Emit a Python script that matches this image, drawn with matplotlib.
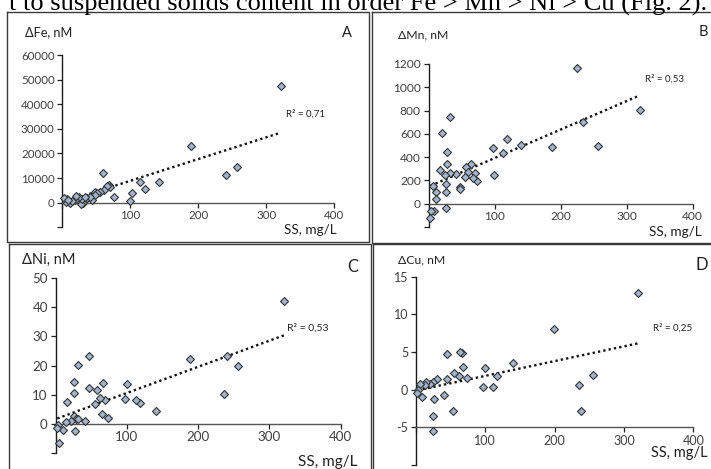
import numpy as np
import matplotlib
matplotlib.use("Agg")
import matplotlib.pyplot as plt
from matplotlib.lines import Line2D

# ---------------- data ----------------
header_text = "t to suspended solids content in order Fe > Mn > Ni > Cu (Fig. 2)."

xticks = [0, 100, 200, 300, 400]
xtick_labels = ["", "100", "200", "300", "400"]

# Panel A: Fe
fe_ss = [321.6, 189, 257, 240, 142, 114.6, 121, 102, 99.5, 59.8, 68, 70.6, 66, 76, 62,
         55.9, 48.5, 50.8, 47.5, 43.5, 36, 31, 27, 28.8, 24, 18.8, 11.3, 6.3, 5, 3,
         14, 40, 33, 20, 8]
fe_val = [47500, 23000, 14600, 11300, 8400, 8400, 5440, 3800, 800, 11940, 7190, 6250, 6800, 2440, 5200,
          4470, 4470, 3900, 3100, 1100, 1800, 0, -400, 1400, 2200, 1100, 0, 1400, 480, 2000,
          600, 2300, 2500, 2600, 900]
fe_trend_ss = [2, 321]
fe_trend = [227, 28430]
fe_yticks = [-10000, 0, 10000, 20000, 30000, 40000, 50000, 60000]
fe_ylabels = ["", "0", "10000", "20000", "30000", "40000", "50000", "60000"]

# Panel B: Mn
mn_ss = [225, 234, 256, 320, 187, 140.6, 118.8, 112.8, 98, 99, 73.8, 69.8, 64.7, 57, 67,
         59.7, 54.6, 47, 47, 41, 31.9, 31.9, 27.8, 27.8, 25.3, 26.8, 26.8, 26.8, 20.2, 16.7,
         11.6, 11.6, 6.6, 8, 4, 3]
mn_val = [1163, 705, 495, 802, 490, 501, 556, 438, 475, 246, 192, 261, 341, 318, 218,
          275, 232, 146, 123, 255, 742, 266, 447, 341, 246, 169, 103, -34, 604, 289,
          103, 37, 155, -60, -63, -126]
mn_trend_ss = [3, 320]
mn_trend = [154, 931]
mn_yticks = [-200, 0, 200, 400, 600, 800, 1000, 1200]
mn_ylabels = ["", "0", "200", "400", "600", "800", "1000", "1200"]

# Panel C: Ni
ni_ss = [320.6, 240.3, 236.6, 256.2, 188, 141, 118.5, 113, 99.8, 98, 74, 69.4, 66.2, 62.4, 64.8,
         57.8, 55.4, 47.4, 47.4, 41.4, 31.6, 26, 26, 27, 26, 28.5, 32, 16.5, 11, 21.3,
         14.7, 4, 5.3, 2.5]
ni_val = [42.2, 23.3, 10.3, 19.8, 22.1, 4.3, 7.1, 8.3, 13.6, 8.4, 2.1, 8.0, 14.1, 9.0, 3.4,
          11.7, 6.9, 12.4, 23.2, 0.8, 20.3, 14.5, 10.7, -2.5, 2.5, 1.5, 1.7, 7.4, -2.1, 0.9,
          0.7, -0.6, -6.7, -1.4]
ni_trend_ss = [2.5, 320.6]
ni_trend = [1.8, 30.4]
ni_yticks = [-10, 0, 10, 20, 30, 40, 50]
ni_ylabels = ["", "0", "10", "20", "30", "40", "50"]

# Panel D: Cu
cu_ss = [320.7, 199.5, 235, 238, 255.3, 139.5, 117, 111.6, 99.6, 97, 74, 68.3, 65.9, 63.5, 62.5,
         55.3, 53, 45.2, 45.2, 40.9, 29.8, 25, 26, 25, 24, 20, 15, 13, 8.2, 5.8,
         3.4, 1.9]
cu_val = [12.9, 8.1, 0.57, -2.9, 1.9, 3.5, 1.8, 0.35, 2.9, 0.35, 1.6, 3.0, 4.9, 5.0, 1.8,
          2.2, -2.8, 4.7, 1.45, -0.7, 1.45, 1.0, -1.2, -3.5, -5.5, 0.8, 1.0, 0.57, -1.0, 0.8,
          -0.1, -0.5]
cu_trend_ss = [1.9, 320.7]
cu_trend = [-0.1, 6.15]
cu_yticks = [-10, -5, 0, 5, 10, 15]
cu_ylabels = ["", "-5", "0", "5", "10", "15"]

# ---------------- figure ----------------
W, H = 711, 469
fig = plt.figure(figsize=(W / 100, H / 100), dpi=100)
FONT = ["Lato", "DejaVu Sans"]
TXT = "#404040"
fill_c = "#A0B4CE"
edge_c = "#333333"


def fx(px):
    return px / W


def fy(py):
    return 1 - py / H


# header text (serif, cropped at the top as in the source page)
fig.text(fx(707), fy(11), header_text, ha="right", va="baseline",
         family=["Liberation Serif"], fontsize=19, color="black")

# panel boxes
def box(x0, y0, x1, y1):
    fig.add_artist(Line2D([fx(x0), fx(x1), fx(x1), fx(x0), fx(x0)],
                          [fy(y0), fy(y0), fy(y1), fy(y1), fy(y0)],
                          transform=fig.transFigure, color="#3a3a3a", lw=1.0))

box(6.5, 12, 368.5, 242)
box(372, 12, 713, 243)
box(9, 243.5, 370.5, 472)
box(372.5, 244.5, 713, 472)


def panel(ax_px, ss, val, tss, tval, yticks, ylabels, cross, fs, texts):
    x0, x1, ytop, ybot = ax_px
    ax = fig.add_axes([fx(x0), fy(ybot), fx(x1 - x0), (ybot - ytop) / H])
    ax.set_xlim(0, 400)
    ax.set_ylim(yticks[0], yticks[-1])
    ax.patch.set_alpha(0)
    for s in ("top", "right"):
        ax.spines[s].set_visible(False)
    ax.spines["bottom"].set_position(("data", cross))
    ax.spines["left"].set_color("#1a1a1a")
    ax.spines["bottom"].set_color("#555555")
    ax.spines["left"].set_linewidth(1.0)
    ax.spines["bottom"].set_linewidth(1.0)
    ax.set_xticks(xticks)
    ax.set_xticklabels(xtick_labels)
    ax.set_yticks(yticks)
    ax.set_yticklabels(ylabels)
    ax.tick_params(axis="both", direction="out", length=3.5, width=0.9,
                   colors="#222222", labelcolor=TXT, labelsize=fs, pad=2)
    for lab in ax.get_xticklabels() + ax.get_yticklabels():
        lab.set_family(FONT)
    ax.plot(tss, tval, color="#111111", lw=1.7, linestyle=(0, (1, 1.3)), zorder=2)
    ax.plot(ss, val, linestyle="none", marker="D", markersize=4.0,
            markerfacecolor=fill_c, markeredgecolor=edge_c, markeredgewidth=0.8,
            zorder=3, clip_on=False)
    for (tx, ty, s, size, ha) in texts:
        fig.text(fx(tx), fy(ty), s, ha=ha, va="center", family=FONT,
                 fontsize=size, color="#222222")
    return ax


panel((62.3, 334.3, 55, 227.3), fe_ss, fe_val, fe_trend_ss, fe_trend,
      fe_yticks, fe_ylabels, 0, 8.3,
      [(25, 32, "\u0394Fe, nM", 9.2, "left"), (352, 33, "A", 10.5, "right"),
       (337, 230, "SS, mg/L", 9.8, "right"), (286, 114, "R\u00b2 = 0,71", 7, "left")])

panel((428.5, 692.7, 64, 227), mn_ss, mn_val, mn_trend_ss, mn_trend,
      mn_yticks, mn_ylabels, 0, 8.6,
      [(398, 35, "\u0394Mn, nM", 8.8, "left"), (708, 32, "B", 10.5, "right"),
       (702, 232, "SS, mg/L", 9.8, "right"), (645, 79, "R\u00b2 = 0,53", 7, "left")])

panel((55.5, 340.7, 278.3, 452.8), ni_ss, ni_val, ni_trend_ss, ni_trend,
      ni_yticks, ni_ylabels, 0, 9.6,
      [(22, 260, "\u0394Ni, nM", 10.5, "left"), (358, 267, "C", 12, "right"),
       (358, 462, "SS, mg/L", 11, "right"), (287, 328, "R\u00b2 = 0,53", 7.5, "left")])

panel((416, 693.3, 276.7, 464.8), cu_ss, cu_val, cu_trend_ss, cu_trend,
      cu_yticks, cu_ylabels, -5, 9.0,
      [(398, 260, "\u0394Cu, nM", 8.8, "left"), (708, 265, "D", 12, "right"),
       (708, 453, "SS, mg/L", 10.5, "right"), (653, 328, "R\u00b2 = 0,25", 7, "left")])

fig.savefig("out.png", dpi=100)
